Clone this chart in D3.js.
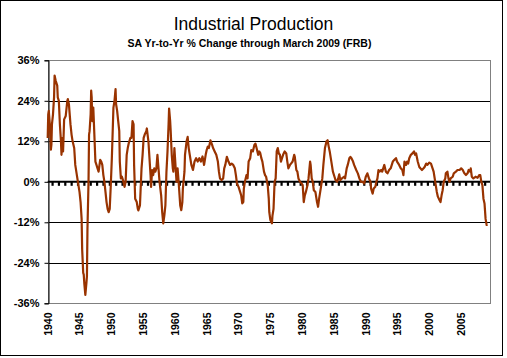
<!DOCTYPE html>
<html>
<head>
<meta charset="utf-8">
<script src="https://cdn.jsdelivr.net/npm/d3@7"></script>
<style>
  body { margin: 0; background: #fff; }
  text { font-family: Arial, "Liberation Sans", sans-serif; }
</style>
</head>
<body>
<div id="chart"></div>
<script>
const WIDTH = 507;
const HEIGHT = 358;

// year-over-year % change
const months = [
"1940-01","1940-02","1940-03","1940-05","1940-07","1940-08","1940-09","1940-11",
"1941-01","1941-02","1941-04","1941-07","1941-08","1941-10","1941-12",
"1942-02","1942-03","1942-05","1942-06","1942-08","1942-11",
"1943-02","1943-03","1943-05","1943-08","1943-10","1943-12",
"1944-03","1944-05","1944-08","1944-10",
"1945-01","1945-03","1945-05","1945-06","1945-08","1945-09","1945-10","1945-12",
"1946-02","1946-03","1946-04","1946-06","1946-07","1946-08","1946-10","1946-11","1946-12",
"1947-01","1947-03","1947-05","1947-07","1947-09","1947-11",
"1948-01","1948-04","1948-06","1948-08","1948-10","1948-12",
"1949-02","1949-04","1949-06","1949-08","1949-10","1949-12",
"1950-02","1950-04","1950-05","1950-07","1950-09","1950-10","1950-12",
"1951-02","1951-04","1951-05","1951-07","1951-09","1951-11",
"1952-02","1952-04","1952-06","1952-08","1952-10",
"1953-01","1953-03","1953-05","1953-07","1953-08","1953-10",
"1954-01","1954-03","1954-04","1954-07","1954-10","1954-12",
"1955-02","1955-04","1955-07","1955-08","1955-11",
"1956-01","1956-03","1956-04","1956-06","1956-08","1956-10","1956-12",
"1957-02","1957-04","1957-06","1957-08","1957-11",
"1958-01","1958-03","1958-05","1958-07","1958-09","1958-11",
"1959-01","1959-02","1959-04","1959-05","1959-07","1959-09","1959-10","1959-12",
"1960-02","1960-04","1960-06","1960-08","1960-11",
"1961-01","1961-03","1961-04","1961-07","1961-08","1961-11",
"1962-01","1962-03","1962-05","1962-08","1962-11",
"1963-02","1963-05","1963-08","1963-11",
"1964-02","1964-05","1964-08","1964-11",
"1965-01","1965-03","1965-05","1965-08","1965-11",
"1966-01","1966-04","1966-07","1966-10","1966-12",
"1967-02","1967-05","1967-08","1967-10","1967-12",
"1968-03","1968-06","1968-09","1968-12",
"1969-03","1969-06","1969-08","1969-10",
"1970-01","1970-04","1970-06","1970-08","1970-10","1970-11",
"1971-01","1971-04","1971-06","1971-08","1971-11",
"1972-01","1972-04","1972-07","1972-09","1972-11",
"1973-02","1973-04","1973-06","1973-08","1973-10",
"1974-01","1974-03","1974-05","1974-08","1974-10","1974-11",
"1975-01","1975-04","1975-05","1975-07","1975-09","1975-11",
"1976-01","1976-03","1976-05","1976-07","1976-09","1976-11",
"1977-01","1977-04","1977-07","1977-09","1977-11",
"1978-02","1978-04","1978-07","1978-10","1978-11",
"1979-02","1979-04","1979-06","1979-09","1979-12",
"1980-02","1980-04","1980-06","1980-08","1980-11",
"1981-01","1981-04","1981-05","1981-07","1981-09","1981-11",
"1982-02","1982-05","1982-07","1982-09","1982-12",
"1983-03","1983-05","1983-08","1983-11",
"1984-01","1984-03","1984-05","1984-07","1984-09","1984-11",
"1985-02","1985-04","1985-07","1985-09","1985-11",
"1986-01","1986-04","1986-08","1986-10",
"1987-01","1987-03","1987-06","1987-08","1987-10",
"1988-01","1988-03","1988-07","1988-10",
"1989-01","1989-04","1989-07","1989-10",
"1990-01","1990-04","1990-07","1990-10","1990-11",
"1991-02","1991-04","1991-07","1991-09","1991-11",
"1992-01","1992-03","1992-06","1992-08","1992-12",
"1993-03","1993-06","1993-09","1993-12",
"1994-04","1994-07","1994-10","1994-12",
"1995-04","1995-07","1995-10","1995-12",
"1996-02","1996-05","1996-07","1996-09","1996-11",
"1997-02","1997-05","1997-08","1997-10","1997-12",
"1998-03","1998-06","1998-08","1998-11",
"1999-02","1999-04","1999-07","1999-09",
"2000-01","2000-04","2000-07","2000-09","2000-11",
"2001-01","2001-03","2001-05","2001-08","2001-10","2001-12",
"2002-02","2002-04","2002-07","2002-08","2002-11",
"2003-01","2003-03","2003-05","2003-09","2003-11",
"2004-03","2004-06","2004-10",
"2005-01","2005-04","2005-07","2005-10",
"2006-01","2006-03","2006-06","2006-07","2006-09","2006-12",
"2007-04","2007-08","2007-11",
"2008-01","2008-03","2008-05","2008-07","2008-09","2008-11",
"2009-01","2009-03"
];
const pctChange = [
13,20,21,17,9.5,11,17,20,
25,31.5,30,28.5,25,24,17,
12,8,13,9,18.5,19.5,
24,24.5,23,17,14,12,
10,5,2,0,
-3,-6,-11,-20,-27,-27.5,-30,-33.5,
-30,-28,-14,0,14,15,20,27,25,
18,22,14,6,5,4,
3,6.5,6,5,2,0,
-3,-6,-8,-9,-8,-1,
7,17,22,24,27.5,23,21,
18,15,6,1,1.5,0.5,
-1.5,0,8,10,11.5,
13,13,18,17,5,-5,
-6,-8,-8.5,-7,4,8,
13,14,15,15.8,12,
7,2,-1.5,3.5,2,4,3,
4,8,4,0,-4,
-9,-12.3,-10,-7,3,9,
17,21.7,18,15,8,4,3,10,
5,0,4,0,-7,
-8.4,-6,-2,3,8,12,
13.3,10,8,5,3.5,
6,7,6,7,
6,7.5,5,8,
9.5,10.4,10,12.3,11,
10,9,8,6,3,
1,0.5,1,4,5,
7.4,6,5,5.4,
5,4,2,-0.5,
-1.5,-3,-4,-6.4,-6,-2,
0,2,1,6,7,
9.4,9,11,11.3,10,
8,9,8.5,7,6,
3,2,1.5,-1,-5,-9,
-11.3,-12.3,-10,-8,0,1,
9,10,8.4,8,6,7,
8,9,8.4,6,4,
5,5.4,6,8,7.5,
3.5,3,1,0,-0.5,
-1,-6,-4,-3,-1,
1,6,5,1,0,-2.5,
-3,-6,-7.4,-5,-2,
1,5,10,12,
12.3,10.5,9,7,5,3,
1.5,0.5,0,1,2.2,
0.5,1,1.5,1,
4,5,7,7.4,7,
6,5,3.5,2.5,
1,0,0,-0.5,
1.5,2.5,1,0,-2,
-3.5,-2,-1.5,0,1,
3.5,3,3.5,3,5,
3,2.5,3.5,4,
6,6.5,7,6,
5,4,3.5,2,
6,5,6,5.4,7,
8,8.4,9,8,8.4,
6,4.4,4,3.5,
4,4.4,5.4,5,
5.7,5.4,4,3,1,
-1,-3,-4.4,-5.4,-6,-4,
-2.5,0,1,2.5,3,
1,0,1,1.5,2.5,
3,3.5,3.5,
4,3.5,2.5,2,
2.5,3.5,3,4,1.5,1,
1.5,1.2,2,
2,0,-1,-5,-6.4,-11,
-12.8,-12.8
];

const yTicks = [36, 24, 12, 0, -12, -24, -36];
const yearLabels = d3.range(1940, 2010, 5);

function toYear(m) {
  const [yr, mo] = m.split("-").map(Number);
  return yr + (mo - 1) / 12;
}

const data = months.map((m, i) => ({ t: toYear(m), v: pctChange[i] }));

const svg = d3.select("#chart").append("svg")
  .attr("width", WIDTH).attr("height", HEIGHT);

svg.append("rect").attr("width", WIDTH).attr("height", HEIGHT).attr("fill", "#fff");
// outer frame
svg.append("rect")
  .attr("x", 0.5).attr("y", 0.5)
  .attr("width", 502).attr("height", 355)
  .attr("fill", "none").attr("stroke", "#000");

const plotLeft = 47.7, plotRight = 490, plotTop = 60.3, plotBottom = 303.3;

const x = d3.scaleLinear()
  .domain([1940, toYear("2009-03")])
  .range([plotLeft, 487.7]);
const y = d3.scaleLinear().domain([-36, 36]).range([plotBottom, plotTop]);

// title
svg.append("text").attr("x", 253.5).attr("y", 30)
  .attr("text-anchor", "middle").attr("font-size", 17.5)
  .text("Industrial Production");
svg.append("text").attr("x", 249.5).attr("y", 47)
  .attr("text-anchor", "middle").attr("font-size", 10.5).attr("font-weight", "bold")
  .text("SA Yr-to-Yr % Change through March 2009 (FRB)");

// gridlines
svg.append("g").selectAll("line")
  .data(yTicks.filter(d => d !== 0 && Math.abs(d) !== 36))
  .join("line")
  .attr("x1", plotLeft).attr("x2", plotRight)
  .attr("y1", d => Math.round(y(d)) + 0.5).attr("y2", d => Math.round(y(d)) + 0.5)
  .attr("stroke", "#000");

// plot border
svg.append("rect")
  .attr("x", Math.round(plotLeft) + 0.5).attr("y", Math.round(plotTop) + 0.5)
  .attr("width", Math.round(plotRight) - Math.round(plotLeft))
  .attr("height", Math.round(plotBottom) - Math.round(plotTop))
  .attr("fill", "none").attr("stroke", "#808080");

// y axis
const yAxis = d3.axisLeft(y).tickValues(yTicks).tickSize(4)
  .tickFormat(d => d + "%");
const gy = svg.append("g").attr("transform", `translate(${Math.round(plotLeft) + 0.5},0)`).call(yAxis);
gy.select(".domain").attr("stroke", "#000");
gy.selectAll("text").attr("font-size", 11).attr("font-weight", "bold")
  .attr("font-family", "Arial, 'Liberation Sans', sans-serif").attr("x", -9).attr("fill", "#000");

// zero axis with yearly tick marks
const y0 = y(0);
svg.append("line")
  .attr("x1", plotLeft).attr("x2", plotRight).attr("y1", y0).attr("y2", y0)
  .attr("stroke", "#000").attr("stroke-width", 2);
const tickYears = d3.range(1940, 2009).map(d => d + 0.75);
svg.append("g").selectAll("rect")
  .data(tickYears)
  .join("rect")
  .attr("x", d => x(d) - 1).attr("y", y0)
  .attr("width", 2.2).attr("height", 4)
  .attr("fill", "#000");

// year labels
svg.append("g").selectAll("text")
  .data(yearLabels)
  .join("text")
  .attr("transform", d => `translate(${x(d) + 3.8},${312.5}) rotate(-90)`)
  .attr("text-anchor", "end")
  .attr("font-size", 10.5).attr("font-weight", "bold")
  .text(d => d);

// series
const line = d3.line().x(d => x(d.t)).y(d => y(d.v));
svg.append("path").datum(data)
  .attr("d", line)
  .attr("fill", "none")
  .attr("stroke", "#993300")
  .attr("stroke-width", 2.2)
  .attr("stroke-linejoin", "round");
</script>
</body>
</html>
